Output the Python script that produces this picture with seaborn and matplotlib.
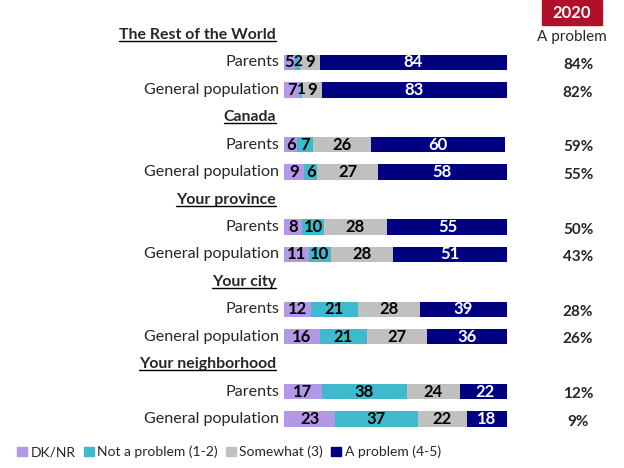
import numpy as np
import pandas as pd
import matplotlib.pyplot as plt
import matplotlib.transforms as mtransforms
from matplotlib.lines import Line2D
from matplotlib.patches import Patch, Rectangle
import seaborn as sns

# Data
groups = ['The Rest of the World', 'Canada', 'Your province', 'Your city', 'Your neighborhood']
rows = ['Parents', 'General population']
dk_nr = [5, 7, 6, 9, 8, 11, 12, 16, 17, 23]
not_problem = [2, 1, 7, 6, 10, 10, 21, 21, 38, 37]
somewhat = [9, 9, 26, 27, 28, 28, 28, 27, 24, 22]
a_problem = [84, 83, 60, 58, 55, 51, 39, 36, 22, 18]
problem_2020 = [84, 82, 59, 55, 50, 43, 28, 26, 12, 9]

series = ['DK/NR', 'Not a problem (1-2)', 'Somewhat (3)', 'A problem (4-5)']
colors = ['#b497e6', '#3fbacd', '#c0c0c0', '#000080']

sns.set_style('white')
plt.rcParams['font.family'] = ['Lato', 'DejaVu Sans']

# slot order: header, Parents, General population for every group
order = []
for i, g in enumerate(groups):
    order += [f'h{i}', f'{i}_Parents', f'{i}_General population']
bar_slots = [s for s in order if not s.startswith('h')]

df = pd.DataFrame({'slot': bar_slots,
                   'DK/NR': dk_nr,
                   'Not a problem (1-2)': not_problem,
                   'Somewhat (3)': somewhat,
                   'A problem (4-5)': a_problem})
cum = df[series].cumsum(axis=1)

fig = plt.figure(figsize=(6.24, 4.68), dpi=100)
ax = fig.add_axes([284 / 624, 1 - 432.7 / 468, 223 / 624, 411.4 / 468])

# stacked bars: draw cumulative totals from the longest down
for s, c in zip(series[::-1], colors[::-1]):
    sns.barplot(x=cum[s], y=df['slot'], order=order, color=c, width=0.56,
                orient='h', saturation=1, ax=ax, linewidth=0)

ax.set_xlim(0, 100)
ax.set_ylim(len(order) - 0.5, -0.5)
ax.axis('off')

pos = {s: i for i, s in enumerate(order)}
for j, slot in enumerate(bar_slots):
    y = pos[slot]
    left = 0
    for s in series:
        v = df.loc[j, s]
        ax.text(left + v / 2, y, str(v), ha='center', va='center',
                fontsize=12 if v >= 3 else 11, fontweight='bold',
                color='white' if s == 'A problem (4-5)' else 'black')
        left += v

trans_fx = mtransforms.blended_transform_factory(fig.transFigure, ax.transData)
headers = []
for i, g in enumerate(groups):
    headers.append(ax.text(276 / 624, pos[f'h{i}'], g, transform=trans_fx,
                           ha='right', va='center', fontsize=11.4, fontweight='bold'))
    for r in rows:
        ax.text(279 / 624, pos[f'{i}_{r}'], r, transform=trans_fx,
                ha='right', va='center', fontsize=11.6)

for j, slot in enumerate(bar_slots):
    ax.text(578 / 624, pos[slot] + 0.1, f'{problem_2020[j]}%', transform=trans_fx,
            ha='center', va='center', fontsize=11, fontweight='bold')

# header of the right column
fig.patches.append(Rectangle((542 / 624, 1 - 25 / 468), 60 / 624, 25 / 468,
                             transform=fig.transFigure, color='#b0102a'))
fig.text(572 / 624, 1 - 12.5 / 468, '2020', ha='center', va='center',
         color='white', fontsize=12, fontweight='bold')
fig.text(572 / 624, 1 - 37 / 468, 'A problem', ha='center', va='center', fontsize=11)

# underline the group headers
fig.canvas.draw()
renderer = fig.canvas.get_renderer()
for t in headers:
    bb = t.get_window_extent(renderer).transformed(fig.transFigure.inverted())
    fig.lines.append(Line2D([bb.x0, bb.x1], [bb.y0 + 0.002, bb.y0 + 0.002],
                            transform=fig.transFigure, color='black', linewidth=1))

handles = [Patch(color=c, label=s) for s, c in zip(series, colors)]
fig.legend(handles=handles, loc='center', bbox_to_anchor=(229 / 624, 1 - 452 / 468),
           ncol=4, frameon=False, fontsize=10, handlelength=0.7, handleheight=0.7,
           handletextpad=0.25, columnspacing=0.6)

fig.savefig('out.png', dpi=100)
